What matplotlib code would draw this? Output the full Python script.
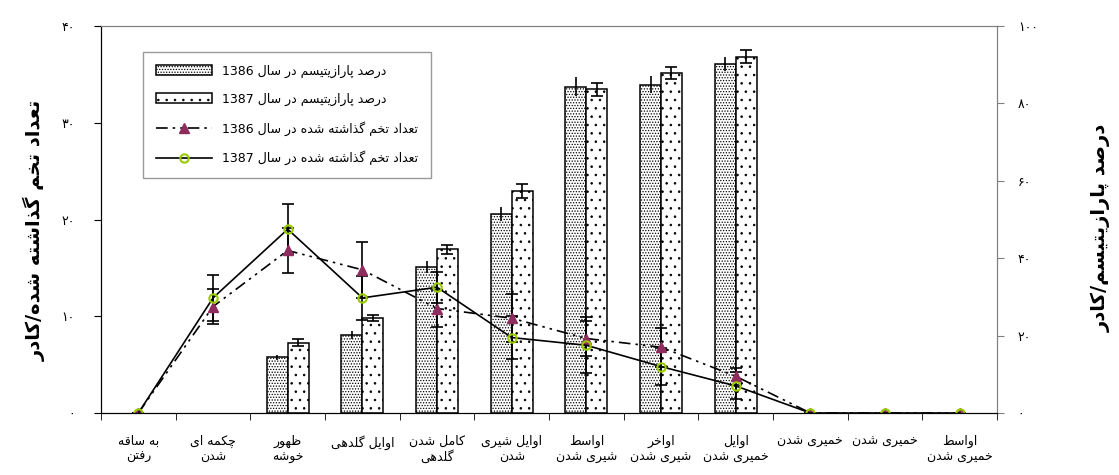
import re
import numpy as np
import matplotlib
matplotlib.use("Agg")
import matplotlib.pyplot as plt


# Persian letters -> (isolated, final, initial, medial); None = right-joining only
FORMS = {
    "ا": (0xFE8D, 0xFE8E, None, None),
    "ب": (0xFE8F, 0xFE90, 0xFE91, 0xFE92),
    "پ": (0xFB56, 0xFB57, 0xFB58, 0xFB59),
    "ت": (0xFE95, 0xFE96, 0xFE97, 0xFE98),
    "چ": (0xFB7A, 0xFB7B, 0xFB7C, 0xFB7D),
    "خ": (0xFEA5, 0xFEA6, 0xFEA7, 0xFEA8),
    "د": (0xFEA9, 0xFEAA, None, None),
    "ذ": (0xFEAB, 0xFEAC, None, None),
    "ر": (0xFEAD, 0xFEAE, None, None),
    "ز": (0xFEAF, 0xFEB0, None, None),
    "س": (0xFEB1, 0xFEB2, 0xFEB3, 0xFEB4),
    "ش": (0xFEB5, 0xFEB6, 0xFEB7, 0xFEB8),
    "ص": (0xFEB9, 0xFEBA, 0xFEBB, 0xFEBC),
    "ط": (0xFEC1, 0xFEC2, 0xFEC3, 0xFEC4),
    "ظ": (0xFEC5, 0xFEC6, 0xFEC7, 0xFEC8),
    "ع": (0xFEC9, 0xFECA, 0xFECB, 0xFECC),
    "ف": (0xFED1, 0xFED2, 0xFED3, 0xFED4),
    "ق": (0xFED5, 0xFED6, 0xFED7, 0xFED8),
    "ک": (0xFB8E, 0xFB8F, 0xFB90, 0xFB91),
    "گ": (0xFB92, 0xFB93, 0xFB94, 0xFB95),
    "ل": (0xFEDD, 0xFEDE, 0xFEDF, 0xFEE0),
    "م": (0xFEE1, 0xFEE2, 0xFEE3, 0xFEE4),
    "ن": (0xFEE5, 0xFEE6, 0xFEE7, 0xFEE8),
    "ه": (0xFEE9, 0xFEEA, 0xFEEB, 0xFEEC),
    "و": (0xFEED, 0xFEEE, None, None),
    "ی": (0xFBFC, 0xFBFD, 0xFBFE, 0xFBFF),
}


def shape_line(s):
    out = []
    for i, ch in enumerate(s):
        if ch not in FORMS:
            out.append(ch)
            continue
        prev = s[i - 1] if i > 0 else ""
        nxt = s[i + 1] if i + 1 < len(s) else ""
        join_prev = prev in FORMS and FORMS[prev][2] is not None
        join_next = nxt in FORMS and FORMS[ch][2] is not None
        iso, fin, ini, med = FORMS[ch]
        if join_prev and join_next:
            out.append(chr(med))
        elif join_prev:
            out.append(chr(fin))
        elif join_next:
            out.append(chr(ini))
        else:
            out.append(chr(iso))
    # visual order: reverse, but keep latin digit runs as they are
    tokens = re.findall(r"[0-9A-Za-z.]+|.", "".join(out))
    return "".join(tokens[::-1])


def fa(text):
    return "\n".join(shape_line(line) for line in text.split("\n"))


stages = [
    "به ساقه\nرفتن",
    "چکمه ای\nشدن",
    "ظهور\nخوشه",
    "اوایل گلدهی\n ",
    "کامل شدن\nگلدهی",
    "اوایل شیری\nشدن",
    "اواسط\nشیری شدن",
    "اواخر\nشیری شدن",
    "اوایل\nخمیری شدن",
    "خمیری شدن\n ",
    "خمیری شدن\n ",
    "اواسط\nخمیری شدن",
]

eggs_1386 = [0, 11.0, 16.8, 14.8, 10.8, 9.8, 7.7, 6.8, 3.8, 0, 0, 0]
eggs_1386_err = [0, 1.8, 2.3, 2.9, 1.9, 2.5, 1.8, 2.0, 0.9, 0, 0, 0]
eggs_1387 = [0, 11.9, 19.0, 11.9, 13.0, 7.8, 7.0, 4.8, 2.8, 0, 0, 0]
eggs_1387_err = [0, 2.35, 2.6, 2.3, 1.6, 2.2, 2.9, 1.9, 1.4, 0, 0, 0]

bar_stages = [2, 3, 4, 5, 6, 7, 8]
para_1386 = [14.4, 20.1, 37.7, 51.4, 84.3, 84.8, 90.2]
para_1386_err = [0.6, 1.0, 1.6, 1.9, 2.4, 2.2, 1.9]
para_1387 = [18.2, 24.6, 42.3, 57.4, 83.6, 87.8, 92.1]
para_1387_err = [1.0, 0.7, 1.2, 1.8, 1.7, 1.5, 1.7]

left_ticks = ["۰", "۱۰", "۲۰", "۳۰", "۴۰"]
right_ticks = ["۰", "۲۰", "۴۰", "۶۰", "۸۰", "۱۰۰"]

legend_labels = [
    "درصد پارازیتیسم در سال 1386",
    "درصد پارازیتیسم در سال 1387",
    "تعداد تخم گذاشته شده در سال 1386",
    "تعداد تخم گذاشته شده در سال 1387",
]

plt.rcParams["font.family"] = "DejaVu Sans"
plt.rcParams["hatch.linewidth"] = 0.6

fig = plt.figure(figsize=(11.19, 4.75), dpi=100)
ax = fig.add_axes([0.0903, 0.1305, 0.8007, 0.8147])
ax2 = ax.twinx()
ax.set_zorder(ax2.get_zorder() + 1)
ax.patch.set_visible(False)

x = np.arange(len(stages))
bx = np.array(bar_stages)
w = 0.28

b86 = ax2.bar(bx - w / 2, para_1386, w, color="white", edgecolor="black",
              hatch="......", linewidth=1.1)
b87 = ax2.bar(bx + w / 2, para_1387, w, color="white", edgecolor="black",
              hatch="..", linewidth=1.1)
ax2.errorbar(bx - w / 2, para_1386, yerr=para_1386_err, fmt="none",
             ecolor="black", elinewidth=1.2, capsize=0)
ax2.errorbar(bx + w / 2, para_1387, yerr=para_1387_err, fmt="none",
             ecolor="black", elinewidth=1.2, capsize=4, capthick=1.2)

ax.errorbar(x, eggs_1386, yerr=eggs_1386_err, fmt="none", ecolor="black",
            elinewidth=1.2, capsize=4, capthick=1.2)
ax.errorbar(x, eggs_1387, yerr=eggs_1387_err, fmt="none", ecolor="black",
            elinewidth=1.2, capsize=4, capthick=1.2)
l86, = ax.plot(x, eggs_1386, color="black", linewidth=1.2,
               linestyle=(0, (7, 3, 1.5, 3, 1.5, 3)), marker="^",
               markersize=7, markerfacecolor="#8e2c5e",
               markeredgecolor="#8e2c5e")
l87, = ax.plot(x, eggs_1387, color="black", linewidth=1.2, marker="o",
               markersize=6, markerfacecolor="none",
               markeredgecolor="#99cc00", markeredgewidth=1.5)

ax.set_xlim(-0.5, len(stages) - 0.5)
ax.set_ylim(0, 40)
ax2.set_ylim(0, 100)

ax.set_xticks(x)
ax.set_xticklabels([fa(s) for s in stages], fontsize=9)
ax.set_xticks(np.arange(len(stages) + 1) - 0.5, minor=True)
ax.tick_params(axis="x", which="major", length=0, pad=16)
ax.tick_params(axis="x", which="minor", length=5, direction="out")

ax.set_yticks([0, 10, 20, 30, 40])
ax.set_yticklabels(left_ticks, fontsize=9)
ax.tick_params(axis="y", length=5, pad=14)
ax2.set_yticks([0, 20, 40, 60, 80, 100])
ax2.set_yticklabels(right_ticks, fontsize=9)
ax2.tick_params(axis="y", length=5, color="#808080", pad=10)

for a in (ax, ax2):
    a.spines["top"].set_color("#808080")
    a.spines["right"].set_color("#808080")
    a.spines["left"].set_color("black")
    a.spines["bottom"].set_color("black")

fig.text(0.031, 0.515, fa("تعداد تخم گذاشته شده/کادر"), rotation=90,
         fontsize=14, fontweight="bold", ha="center", va="center")
fig.text(0.984, 0.52, fa("درصد پارازیتیسم/کادر"), rotation=90,
         fontsize=14, fontweight="bold", ha="center", va="center")

leg = ax.legend([b86, b87, l86, l87], [fa(t) for t in legend_labels],
                loc="upper left", bbox_to_anchor=(0.047, 0.933),
                borderaxespad=0, fontsize=9, fancybox=False,
                edgecolor="#808080", handlelength=4.5, labelspacing=1.2,
                borderpad=1.0, handleheight=0.8)
leg.get_frame().set_linewidth(1.0)

fig.savefig("out.png", dpi=100)
